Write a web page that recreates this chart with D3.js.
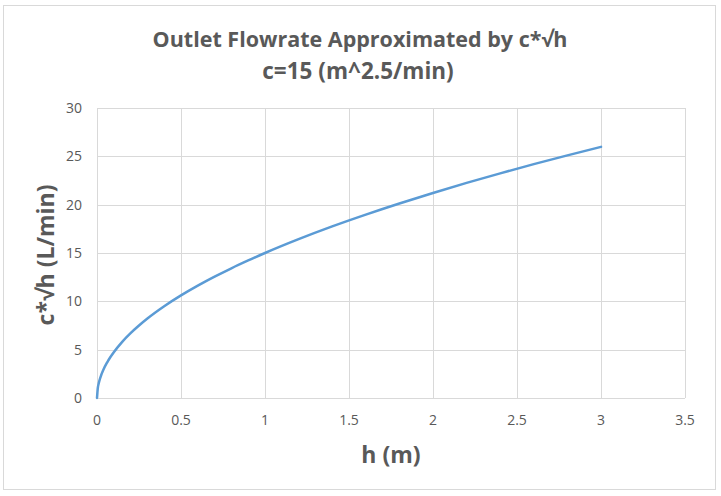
<!DOCTYPE html>
<html><head><meta charset="utf-8">
<script src="https://cdn.jsdelivr.net/npm/d3@7"></script>
<style>body{margin:0;background:#fff;} svg{display:block;}</style>
</head><body>
<script>
const titleLines = ["Outlet Flowrate Approximated by c*\u221Ah", "c=15 (m^2.5/min)"];
const xLabel = "h (m)";
const yLabel = "c*\u221Ah (L/min)";
const xTicks = [0, 0.5, 1, 1.5, 2, 2.5, 3, 3.5];
const yTicks = [0, 5, 10, 15, 20, 25, 30];
const hValues = [0, 0.005, 0.01, 0.02, 0.04, 0.06, 0.08, 0.1, 0.15, 0.2, 0.25, 0.3, 0.4, 0.5, 0.6, 0.7, 0.8, 0.9, 1.0, 1.2, 1.4, 1.6, 1.8, 2.0, 2.2, 2.4, 2.6, 2.8, 3.0];
const flowValues = [0, 1.06, 1.5, 2.12, 3.0, 3.67, 4.24, 4.74, 5.81, 6.71, 7.5, 8.22, 9.49, 10.61, 11.62, 12.55, 13.42, 14.23, 15.0, 16.43, 17.75, 18.97, 20.12, 21.21, 22.25, 23.24, 24.19, 25.1, 25.98];

(function () {
const W = 721, H = 496;
const svg = d3.select("body").append("svg").attr("width", W).attr("height", H);
svg.append("rect").attr("x", 3.5).attr("y", 5.5).attr("width", 712).attr("height", 484)
  .attr("fill", "#fff").attr("stroke", "#d9d9d9").attr("stroke-width", 1);

const pLeft = 97, pRight = 685, pTop = 108, pBottom = 398;
const x = d3.scaleLinear().domain([0, 3.5]).range([pLeft, pRight]);
const y = d3.scaleLinear().domain([0, 30]).range([pBottom, pTop]);
const font = "'Open Sans', Calibri, sans-serif";
const grey = "#595959";

svg.append("g").selectAll("line").data(yTicks).join("line")
  .attr("x1", pLeft).attr("x2", pRight).attr("y1", d => Math.round(y(d)) + 0.5).attr("y2", d => Math.round(y(d)) + 0.5)
  .attr("stroke", "#d9d9d9").attr("stroke-width", 1);
svg.append("g").selectAll("line").data(xTicks).join("line")
  .attr("y1", pTop).attr("y2", pBottom).attr("x1", d => Math.round(x(d)) + 0.5).attr("x2", d => Math.round(x(d)) + 0.5)
  .attr("stroke", "#d9d9d9").attr("stroke-width", 1);

svg.append("g").selectAll("text").data(yTicks).join("text")
  .attr("x", 82).attr("y", d => y(d)).attr("dy", "0.35em").attr("text-anchor", "end")
  .attr("font-family", font).attr("font-size", 14).attr("fill", grey).text(d => d);
svg.append("g").selectAll("text").data(xTicks).join("text")
  .attr("x", d => x(d)).attr("y", 420).attr("dy", "0.35em").attr("text-anchor", "middle")
  .attr("font-family", font).attr("font-size", 14).attr("fill", grey).text(d => d);

const line = d3.line().x((d, i) => x(hValues[i])).y(d => y(d)).curve(d3.curveMonotoneX);
svg.append("path").datum(flowValues).attr("d", line).attr("fill", "none")
  .attr("stroke", "#5B9BD5").attr("stroke-width", 2.5).attr("stroke-linecap", "round");

svg.append("text").attr("x", 360).attr("y", 47).attr("text-anchor", "middle")
  .attr("font-family", font).attr("font-weight", "bold").attr("font-size", 21.5).attr("fill", grey).text(titleLines[0]);
svg.append("text").attr("x", 358).attr("y", 79).attr("text-anchor", "middle")
  .attr("font-family", font).attr("font-weight", "bold").attr("font-size", 22.5).attr("fill", grey).text(titleLines[1]);
svg.append("text").attr("x", 391).attr("y", 463).attr("text-anchor", "middle")
  .attr("font-family", font).attr("font-weight", "bold").attr("font-size", 23).attr("fill", grey).text(xLabel);
svg.append("text").attr("transform", "translate(54,255) rotate(-90)").attr("text-anchor", "middle")
  .attr("font-family", font).attr("font-weight", "bold").attr("font-size", 23).attr("fill", grey).text(yLabel);
})();
</script>
</body></html>
